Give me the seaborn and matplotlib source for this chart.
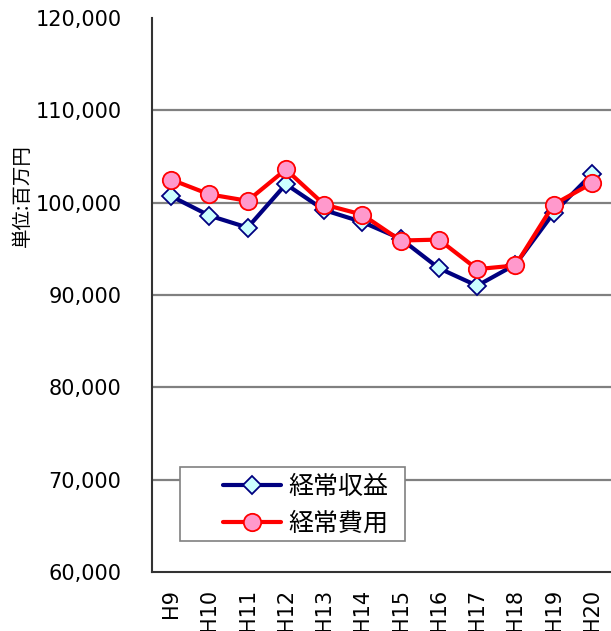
import numpy as np
import pandas as pd
import matplotlib
matplotlib.use("Agg")
import matplotlib.pyplot as plt
from matplotlib.patches import Rectangle
from matplotlib.ticker import FuncFormatter, FixedLocator
import seaborn as sns

years = ["H9", "H10", "H11", "H12", "H13", "H14", "H15", "H16", "H17", "H18", "H19", "H20"]
revenue = [100700, 98600, 97300, 102000, 99200, 97900, 96100, 92900, 91000, 93300, 98900, 103100]
expense = [102500, 100900, 100200, 103600, 99800, 98700, 95900, 96000, 92800, 93200, 99800, 102100]

sns.set_style("white")
plt.rcParams["font.family"] = ["DejaVu Sans", "Noto Sans CJK JP"]
plt.rcParams["text.color"] = "black"
jp = ["Noto Sans CJK JP", "DejaVu Sans"]

df = pd.DataFrame({"idx": np.arange(len(years)), "rev": revenue, "exp": expense})

fig = plt.figure(figsize=(6.11, 6.31), dpi=100)
ax = fig.add_axes([152 / 611, 1 - 572 / 631, 459 / 611, 554 / 631])

sns.lineplot(data=df, x="idx", y="rev", ax=ax, color="#000080", linewidth=3,
             marker="D", markersize=9.5, markerfacecolor="#CCFFFF",
             markeredgecolor="#000080", markeredgewidth=1.3, label="経常収益")
sns.lineplot(data=df, x="idx", y="exp", ax=ax, color="#FF0000", linewidth=3,
             marker="o", markersize=12.5, markerfacecolor="#FF99CC",
             markeredgecolor="#FF0000", markeredgewidth=1.3, label="経常費用")

ax.set_xlim(-0.5, len(years) - 0.5)
ax.set_ylim(60000, 120000)
ax.set_yticks(np.arange(60000, 120001, 10000))
ax.yaxis.set_major_formatter(FuncFormatter(lambda v, p: f"{int(v):,}"))

# gridlines except the top edge
for v in range(70000, 120000, 10000):
    ax.axhline(v, color="#808080", linewidth=1.6, zorder=0)

ax.set_xticks(np.arange(len(years)))
ax.set_xticklabels(years, rotation=90, fontsize=15)
ax.xaxis.set_minor_locator(FixedLocator(np.arange(0.5, len(years) - 0.5, 1)))
ax.tick_params(axis="x", which="major", length=0, pad=12, labelcolor="black")
ax.tick_params(axis="x", which="minor", direction="in", length=5, width=1.2, color="#333333")
ax.tick_params(axis="y", direction="in", length=5, width=1.2, color="#333333",
               labelsize=15, pad=22, labelcolor="black")

for s in ["top", "right"]:
    ax.spines[s].set_visible(False)
for s in ["left", "bottom"]:
    ax.spines[s].set_color("#333333")
    ax.spines[s].set_linewidth(1.5)

ax.set_xlabel("")
ax.set_ylabel("")
fig.text(22 / 611, 1 - 196 / 631, "単位:百万円", rotation=90, ha="center", va="center",
         fontsize=14, family=jp, color="black")

# legend box like the original (wide left padding)
box = Rectangle((180 / 611, 1 - 541 / 631), 225 / 611, 74 / 631, transform=fig.transFigure,
                facecolor="white", edgecolor="#808080", linewidth=1.2, clip_on=False, zorder=4)
ax.add_patch(box)
leg = ax.legend(loc="center left", bbox_to_anchor=(223 / 611, 1 - 505 / 631),
                bbox_transform=fig.transFigure, borderaxespad=0, borderpad=0,
                frameon=False, handlelength=2.3, labelspacing=0.42, handletextpad=0.3,
                prop={"family": jp, "size": 18})
for t in leg.get_texts():
    t.set_color("black")
leg.set_zorder(5)

fig.savefig("out.png", dpi=100)
